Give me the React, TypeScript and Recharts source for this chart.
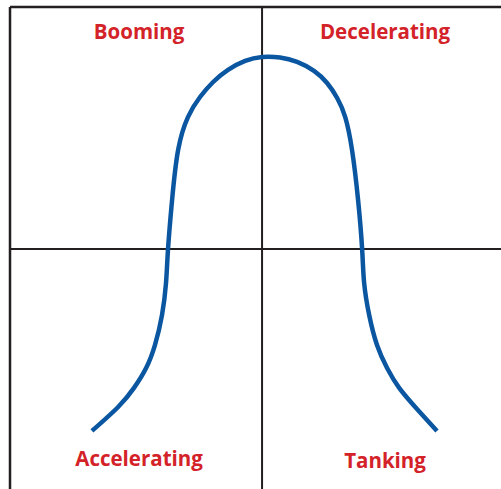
import { LineChart, Line, XAxis, YAxis, ReferenceLine, ReferenceDot } from "recharts";

// curve; x: centre line = 0, y: horizontal line = 0
const curveX = [
  -67.5, -57.1, -50.8, -46.0, -42.5, -39.7, -38.1, -37.3, -35.7, -33.3, -29.4, -24.6, -19.4, -13.5,
  -6.7, 0, 7.1, 13.9, 20.6, 25.8, 29.8, 33.0, 35.7, 38.1, 39.7, 40.5, 42.5, 45.6, 49.6, 54.4,
  61.1, 69.4,
];
const curveY = [
  -75.2, -65.3, -57.4, -49.2, -39.7, -27.3, -14.0, 0, 20.2, 40.9, 54.5, 62.8, 69.0, 74.0,
  77.7, 79.3, 79.1, 77.3, 73.6, 68.6, 62.4, 54.5, 40.9, 20.2, 0, -14.0, -27.3, -39.7, -49.2, -57.4,
  -65.7, -75.2,
];

const quadrantNames = ["Booming", "Decelerating", "Accelerating", "Tanking"];
const quadrantX = [-48.8, 48.8, -48.8, 48.8];
const quadrantY = [89.7, 89.7, -86.8, -87.6];

const data = curveX.map((x, i) => ({ x, y: curveY[i] }));

const lineColor = "#231f20";
const red = "#d42229";

export default function App() {
  return (
    <div style={{ position: "absolute", left: 0, top: 0, background: "#fff" }}>
      <LineChart
        width={501}
        height={489}
        data={data}
        margin={{ top: 7, right: 0, bottom: 0, left: 10 }}
      >
        <XAxis type="number" dataKey="x" domain={[-100, 94.8]} hide />
        <YAxis type="number" dataKey="y" domain={[-99.2, 100]} hide />

        <ReferenceLine y={100} stroke={lineColor} strokeWidth={2.5} />
        <ReferenceLine x={-100} stroke={lineColor} strokeWidth={2.5} />
        <ReferenceLine y={0} stroke={lineColor} strokeWidth={2} />
        <ReferenceLine x={0} stroke={lineColor} strokeWidth={2} />

        {quadrantNames.map((name, i) => (
          <ReferenceDot
            key={name}
            x={quadrantX[i]}
            y={quadrantY[i]}
            r={0}
            stroke="none"
            label={{
              value: name,
              position: "center",
              fill: red,
              fontSize: 20.5,
              fontWeight: 700,
              fontFamily: "Open Sans",
            }}
          />
        ))}

        <Line
          type="natural"
          dataKey="y"
          stroke="#0b56a0"
          strokeWidth={4.5}
          dot={false}
          isAnimationActive={false}
        />
      </LineChart>
    </div>
  );
}
